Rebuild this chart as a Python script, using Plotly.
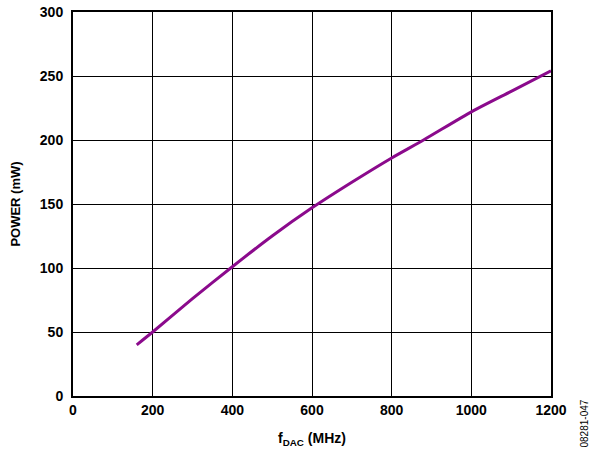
import plotly.graph_objects as go

# DAC update rate (MHz) and power (mW)
f_dac = [160, 200, 300, 400, 500, 600, 700, 800, 880, 1000, 1100, 1200]
power = [40, 50, 76, 101, 125, 147, 167, 186, 200, 222, 238, 254]

x_ticks = [0, 200, 400, 600, 800, 1000, 1200]
y_ticks = [0, 50, 100, 150, 200, 250, 300]

FONT = "Liberation Sans, Arial, sans-serif"

fig = go.Figure()
fig.add_trace(
    go.Scatter(
        x=f_dac,
        y=power,
        mode="lines",
        line={"color": "#8B0A8C", "width": 3, "shape": "spline", "smoothing": 0.6},
        showlegend=False,
    )
)

axis_common = dict(
    showgrid=True,
    gridcolor="#000000",
    gridwidth=1.3,
    zeroline=False,
    showline=True,
    linecolor="#000000",
    linewidth=2,
    mirror=True,
    ticks="",
    automargin=False,
    ticklabeloverflow="allow",
    tickfont={"family": FONT, "size": 14, "color": "#000000", "weight": "bold"},
)

fig.update_layout(
    width=593,
    height=455,
    paper_bgcolor="#ffffff",
    plot_bgcolor="#ffffff",
    margin={"l": 73, "r": 42, "t": 12, "b": 59},
    font={"family": FONT, "color": "#000000"},
    xaxis=dict(
        axis_common,
        range=[0, 1200],
        tickvals=x_ticks,
        title={
            "text": "f<sub>DAC</sub> (MHz)",
            "font": {"family": FONT, "size": 14, "weight": "bold"},
            "standoff": 16,
        },
    ),
    yaxis=dict(
        axis_common,
        range=[0, 300],
        tickvals=y_ticks,
        ticklabelstandoff=5,
        title={
            "text": "POWER (mW)",
            "font": {"family": FONT, "size": 13, "weight": "bold"},
            "standoff": 16,
        },
    ),
)

fig.add_annotation(
    text="08281-047",
    xref="paper",
    yref="paper",
    x=1.0,
    xshift=40,
    y=0.0,
    yshift=-2,
    yanchor="top",
    showarrow=False,
    textangle=-90,
    font={"family": FONT, "size": 10, "color": "#000000"},
)

# drop the default page margin so the figure sits at the window's corner
fig.write_html(
    "out.html",
    config={"displayModeBar": False},
    post_script="document.body.style.margin='0';",
)
